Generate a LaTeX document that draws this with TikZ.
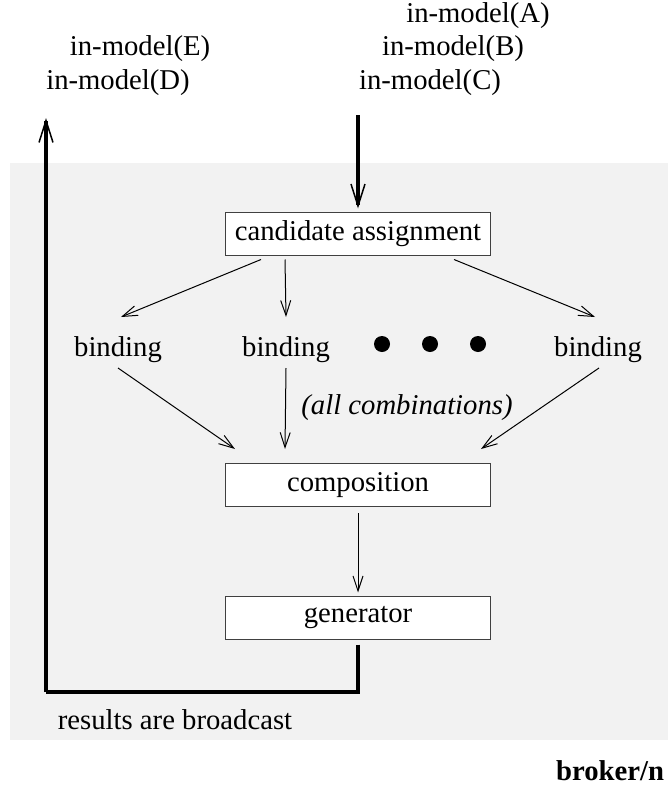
\documentclass[tikz,border=0pt]{standalone}
\usepackage{fontspec}
\setmainfont{Liberation Serif}
\usetikzlibrary{arrows.meta}
\definecolor{bggray}{HTML}{F2F2F2}
\begin{document}
\begin{tikzpicture}[x=1pt,y=-1pt,
  every node/.style={font=\fontsize{28.7}{34}\selectfont, inner sep=0pt},
  stagebox/.style={draw=black!75, line width=1pt, fill=white,
    minimum width=265pt, minimum height=43pt},
  dot/.style={circle, fill=black, minimum size=16pt},
  thinarrow/.style={line width=1pt, -{Straight Barb[length=15pt,width=10pt]}},
  thickline/.style={line width=4pt},
  thickarrow/.style={line width=4pt,
    -{Straight Barb[length=22pt,width=14pt,line width=1.5pt]}}]
\useasboundingbox (0,0) rectangle (668,792);
% shaded broker area
\fill[bggray] (10,163) rectangle (668,740);

% incoming and outgoing messages
\node (inA) at (478,16) {in-model(A)};
\node (inB) at (453,49) {in-model(B)};
\node (inC) at (430,83) {in-model(C)};
\node (inE) at (140,49) {in-model(E)};
\node (inD) at (118,83) {in-model(D)};

% processing stages
\node[stagebox] (cand) at (358,233.5) {candidate assignment};
\node (b1) at (118,350) {binding};
\node (b2) at (286,350) {binding};
\node (b3) at (598,350) {binding};
\node[dot] (d1) at (382,344) {};
\node[dot] (d2) at (430,344) {};
\node[dot] (d3) at (478,344) {};
\node[font=\fontsize{28.7}{34}\selectfont\itshape] (comb) at (407,408) {(all combinations)};
\node[stagebox] (comp) at (358,485) {composition};
\node[stagebox] (gen) at (358,617.5) {generator};
\node (res) at (175,720) {results are broadcast};
\node[font=\fontsize{28.7}{34}\selectfont\bfseries, anchor=base west] (brk) at (556,780) {broker/n};

% message flow in and out
\coordinate (feed) at (358,115);
\coordinate (bend) at (46,692);
\coordinate (outlet) at (46,118);
\draw[thickarrow, shorten >=3pt] (feed) -- (cand.north);
\draw[thickline] ([yshift=-5pt]gen.south) |- (bend);
\draw[thickarrow] (bend) -- (outlet);

% fan-out to bindings
\draw[thinarrow] ([shift={(36,4)}]cand.south west) -- ([shift={(3,-33)}]b1.center);
\draw[thinarrow] ([shift={(60,4)}]cand.south west) -- ([shift={(0,-33)}]b2.center);
\draw[thinarrow] ([shift={(-37,4)}]cand.south east) -- ([shift={(-3,-33)}]b3.center);

% fan-in to composition
\draw[thinarrow] ([shift={(0,18)}]b1.center) -- ([shift={(10,-14)}]comp.north west);
\draw[thinarrow] ([shift={(0,18)}]b2.center) -- ([shift={(60,-14)}]comp.north west);
\draw[thinarrow] ([shift={(1,18)}]b3.center) -- ([shift={(-10,-14)}]comp.north east);

\draw[thinarrow] ([shift={(0,6)}]comp.south) -- ([shift={(0,-3)}]gen.north);
\end{tikzpicture}
\end{document}
